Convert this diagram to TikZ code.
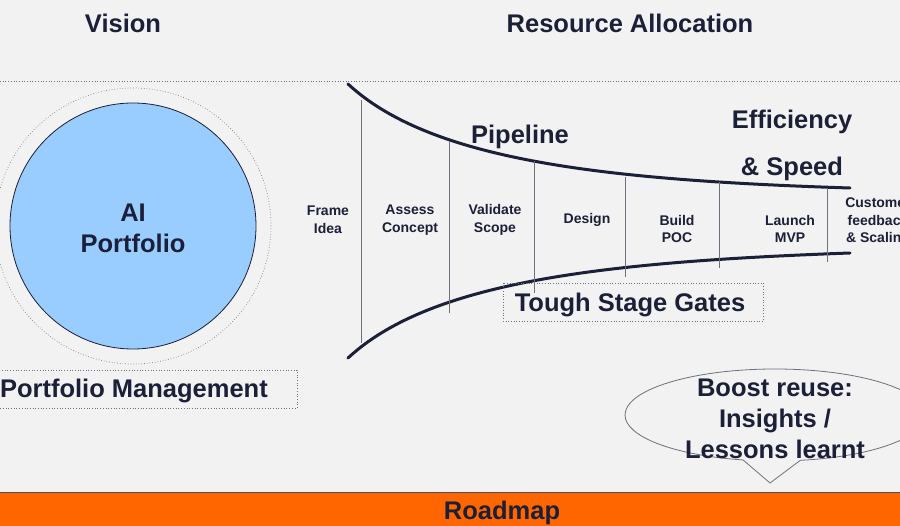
\documentclass[tikz,border=0pt]{standalone}
\usepackage{fontspec}
\setmainfont{Liberation Sans}
\usetikzlibrary{shapes.callouts}
\definecolor{TextClr}{RGB}{27,31,56}
\definecolor{BackClr}{RGB}{242,242,242}
\definecolor{CircleClr}{RGB}{153,204,255}
\definecolor{BarClr}{RGB}{255,102,0}
\definecolor{GateClr}{RGB}{110,112,125}

\tikzset{
  big/.style={font=\bfseries\fontsize{25.5}{31}\selectfont,text=TextClr,align=center,inner sep=0pt},
  stage/.style={font=\bfseries\fontsize{14}{17.5}\selectfont,text=TextClr,align=center,inner sep=0pt},
  dotbox/.style={draw=GateClr,dotted,line width=0.7pt},
  funnel/.style={draw=TextClr,line width=3pt,line cap=round},
  gate/.style={draw=GateClr,line width=1pt}
}

\begin{document}
\begin{tikzpicture}[x=1pt,y=-1pt]
\useasboundingbox (0,0) rectangle (900,526);
\clip (0,0) rectangle (900,526);
\fill[BackClr] (0,0) rectangle (900,526);

\draw[dotbox] (0,81) -- (900,81);
\node[big] (vision) at (123,23) {Vision};
\node[big] (alloc) at (630,23) {Resource Allocation};

\draw[draw=gray,dotted,line width=0.7pt] (133,226) circle (138pt);
\node[circle,draw=TextClr,line width=0.8pt,fill=CircleClr,minimum size=246pt,inner sep=0pt] (ai) at (133,226) {};
\node[big] (aitext) at (133,228) {AI\\Portfolio};

\draw[dotbox] (-5,370) rectangle (297,408);
\node[big,anchor=east] (pm) at (268,391) {Portfolio Management};

\coordinate (T0) at (348,84);
\coordinate (T1) at (850,188);
\coordinate (B0) at (348,358);
\coordinate (B1) at (850,253);
\draw[funnel] (T0) .. controls (430,160) and (600,180) .. (T1);
\draw[funnel] (B0) .. controls (430,282) and (600,262) .. (B1);

\foreach \x/\ya/\yb in {361/100/343, 449/141/313, 534/161/293, 625/177/277, 719/182/268, 827/188/262}
  \draw[gate] (\x,\ya) -- (\x,\yb);

\node[stage] (frame) at (328,220) {Frame\\Idea};
\node[stage] (assess) at (410,220) {Assess\\Concept};
\node[stage] (validate) at (495,220) {Validate\\Scope};
\node[stage] (design) at (587,220) {Design};
\node[stage] (build) at (677,229) {Build\\POC};
\node[stage] (launch) at (790,229) {Launch\\MVP};
\node[stage] (customer) at (878,222) {Customer\\feedback\\\& Scaling};

\node[big] (pipe) at (520,137) {Pipeline};
\node[big] (effic) at (792,122) {Efficiency};
\node[big] (speed) at (792,169) {\& Speed};

\draw[dotbox] (503,283) rectangle (763,321);
\node[big] (gates) at (630,305) {Tough Stage Gates};

\node[ellipse callout,draw=GateClr,line width=0.8pt,minimum width=300pt,minimum height=92pt,inner sep=0pt,
  callout absolute pointer={(770,483)},callout pointer arc=22] (reuse) at (775,415) {};
\node[big] (reusetext) at (775,419) {Boost reuse:\\Insights /\\Lessons learnt};

\fill[BarClr] (0,492) rectangle (900,526);
\draw[draw=TextClr!80,line width=1pt] (0,492) -- (900,492);
\node[big] (road) at (502,513) {Roadmap};
\end{tikzpicture}
\end{document}
